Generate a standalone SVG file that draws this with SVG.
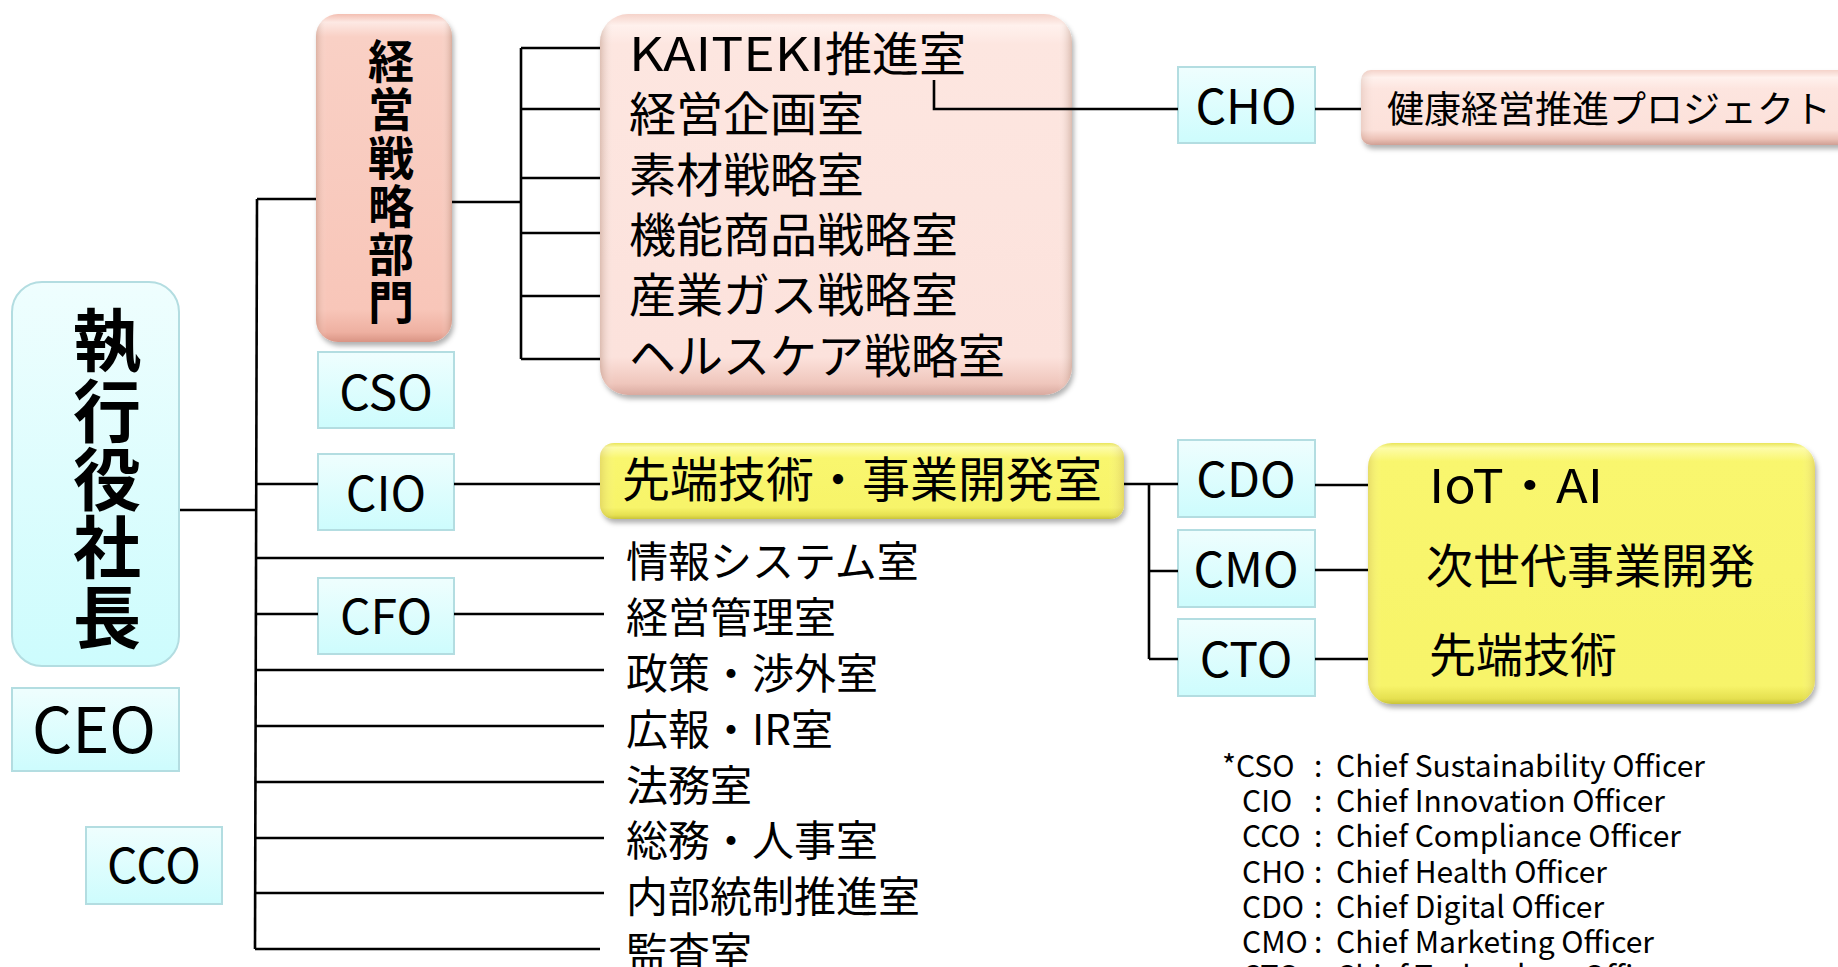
<svg xmlns="http://www.w3.org/2000/svg" width="1838" height="967" viewBox="0 0 1838 967">
<defs>
<linearGradient id="cyanG" x1="0" y1="0" x2="0" y2="1"><stop offset="0" stop-color="#effefe"/><stop offset="1" stop-color="#cdfcfd"/></linearGradient>
<linearGradient id="pinkStrongV" x1="0" y1="0" x2="0" y2="1"><stop offset="0" stop-color="#f3bfb2"/><stop offset="0.025" stop-color="#fde9e4"/><stop offset="0.07" stop-color="#f9d0c5"/><stop offset="0.9" stop-color="#f8c6b9"/><stop offset="0.97" stop-color="#eeb0a1"/><stop offset="1" stop-color="#d99484"/></linearGradient>
<linearGradient id="pinkLightV" x1="0" y1="0" x2="0" y2="1"><stop offset="0" stop-color="#f5d3ca"/><stop offset="0.03" stop-color="#fff1ed"/><stop offset="0.08" stop-color="#fde6e0"/><stop offset="0.9" stop-color="#fce2dc"/><stop offset="0.97" stop-color="#efc6bc"/><stop offset="1" stop-color="#d9aaa0"/></linearGradient>
<linearGradient id="pinkBarV" x1="0" y1="0" x2="0" y2="1"><stop offset="0" stop-color="#f5d3ca"/><stop offset="0.1" stop-color="#fff1ed"/><stop offset="0.25" stop-color="#fde5df"/><stop offset="0.8" stop-color="#fce1da"/><stop offset="0.92" stop-color="#ecc1b6"/><stop offset="1" stop-color="#cf9f94"/></linearGradient>
<linearGradient id="yellowV" x1="0" y1="0" x2="0" y2="1"><stop offset="0" stop-color="#e9e55a"/><stop offset="0.06" stop-color="#fdfca8"/><stop offset="0.2" stop-color="#f9f66e"/><stop offset="0.85" stop-color="#f7f46a"/><stop offset="0.95" stop-color="#e5e050"/><stop offset="1" stop-color="#c9c33a"/></linearGradient>
<linearGradient id="yellowBigV" x1="0" y1="0" x2="0" y2="1"><stop offset="0" stop-color="#e9e55a"/><stop offset="0.02" stop-color="#fdfca8"/><stop offset="0.07" stop-color="#f9f66e"/><stop offset="0.93" stop-color="#f7f46a"/><stop offset="0.98" stop-color="#e5e050"/><stop offset="1" stop-color="#c9c33a"/></linearGradient>
<linearGradient id="edgeH" x1="0" y1="0" x2="1" y2="0"><stop offset="0" stop-color="#8a5a40" stop-opacity="0.28"/><stop offset="0.03" stop-color="#ffffff" stop-opacity="0.0"/><stop offset="0.97" stop-color="#ffffff" stop-opacity="0"/><stop offset="1" stop-color="#8a5a40" stop-opacity="0.3"/></linearGradient>
<linearGradient id="edgeHNarrow" x1="0" y1="0" x2="1" y2="0"><stop offset="0" stop-color="#8a5a40" stop-opacity="0.25"/><stop offset="0.08" stop-color="#ffffff" stop-opacity="0.0"/><stop offset="0.92" stop-color="#ffffff" stop-opacity="0"/><stop offset="1" stop-color="#8a5a40" stop-opacity="0.3"/></linearGradient>
<filter id="shadow" x="-10%" y="-10%" width="125%" height="125%"><feDropShadow dx="2" dy="4" stdDeviation="2.5" flood-color="#000" flood-opacity="0.3"/></filter>
<style>
.cbox{fill:url(#cyanG);stroke:#b3dde1;stroke-width:2}
.lbl{font-family:"Noto Sans CJK JP","Noto Sans",sans-serif;font-size:48px;fill:#000;text-anchor:middle}
.big{font-size:63px}
.jp{font-family:"Noto Sans CJK JP",sans-serif;font-size:47px;fill:#000}
.jp48{font-size:48px}
.jp37{font-size:37px}
.jps{font-family:"Noto Sans CJK JP",sans-serif;font-size:42px;fill:#000}
.vb{font-family:"Noto Sans CJK JP",sans-serif;font-weight:700;fill:#000;text-anchor:middle}
.v68{font-size:68px}
.v46{font-size:46px}
.leg{font-family:"Noto Sans CJK JP","Noto Sans",sans-serif;font-size:30px;fill:#000}
.ln{fill:none;stroke:#000;stroke-width:2.6}
</style>
</defs>
<rect width="1838" height="967" fill="#fff"/>

<g id="exec">
<rect x="12" y="282" width="167" height="384" rx="30" class="cbox"/>
<text class="vb v68" x="107"><tspan x="107" y="366">執</tspan><tspan x="107" y="437">行</tspan><tspan x="107" y="505">役</tspan><tspan x="107" y="573">社</tspan><tspan x="107" y="643">長</tspan></text>
</g>
<g id="ceo"><rect x="12" y="688" width="167" height="83" class="cbox"/><text class="lbl big" x="94" y="753">CEO</text></g>
<g id="cco"><rect x="86" y="827" width="136" height="77" class="cbox"/><text class="lbl" x="154" y="883">CCO</text></g>

<g id="keiei">
<rect x="316" y="14" width="136" height="328" rx="22" fill="url(#pinkStrongV)" filter="url(#shadow)"/>
<rect x="316" y="14" width="136" height="328" rx="22" fill="url(#edgeHNarrow)"/>
<text class="vb v46" x="391"><tspan x="391" y="78">経</tspan><tspan x="391" y="126">営</tspan><tspan x="391" y="175">戦</tspan><tspan x="391" y="223">略</tspan><tspan x="391" y="271">部</tspan><tspan x="391" y="319">門</tspan></text>
</g>
<g id="cso"><rect x="318" y="352" width="136" height="76" class="cbox"/><text class="lbl" x="386" y="410">CSO</text></g>
<g id="cio"><rect x="318" y="454" width="136" height="76" class="cbox"/><text class="lbl" x="386" y="511">CIO</text></g>
<g id="cfo"><rect x="318" y="578" width="136" height="76" class="cbox"/><text class="lbl" x="386" y="634">CFO</text></g>

<g id="kaiteki">
<rect x="600" y="14" width="472" height="381" rx="28" fill="url(#pinkLightV)" filter="url(#shadow)"/>
<rect x="600" y="14" width="472" height="381" rx="28" fill="url(#edgeH)"/>
<text class="jp" x="629" y="71"><tspan textLength="196" lengthAdjust="spacingAndGlyphs">KAITEKI</tspan>推進室</text>
<text class="jp" x="629" y="131">経営企画室</text>
<text class="jp" x="629" y="192">素材戦略室</text>
<text class="jp" x="629" y="252">機能商品戦略室</text>
<text class="jp" x="629" y="312">産業ガス戦略室</text>
<text class="jp" x="629" y="373">ヘルスケア戦略室</text>
</g>

<g id="cho"><rect x="1178" y="67" width="137" height="76" class="cbox"/><text class="lbl" x="1246" y="124">CHO</text></g>
<g id="kenko">
<rect x="1361" y="70" width="500" height="75" rx="10" fill="url(#pinkBarV)" filter="url(#shadow)"/>
<rect x="1361" y="70" width="500" height="75" rx="10" fill="url(#edgeH)" opacity="0.5"/>
<text class="jp jp37" x="1387" y="123">健康経営推進プロジェクト</text>
</g>

<g id="sentan">
<rect x="600" y="443" width="524" height="76" rx="14" fill="url(#yellowV)" filter="url(#shadow)"/>
<rect x="600" y="443" width="524" height="76" rx="14" fill="url(#edgeH)" opacity="0.6"/>
<text class="jp jp48" x="622" y="497">先端技術・事業開発室</text>
</g>

<g id="depts">
<text class="jps" x="626" y="577">情報システム室</text>
<text class="jps" x="626" y="633">経営管理室</text>
<text class="jps" x="626" y="689">政策・渉外室</text>
<text class="jps" x="626" y="745">広報・IR室</text>
<text class="jps" x="626" y="801">法務室</text>
<text class="jps" x="626" y="856">総務・人事室</text>
<text class="jps" x="626" y="912">内部統制推進室</text>
<text class="jps" x="626" y="968">監査室</text>
</g>

<g id="cdo"><rect x="1178" y="440" width="137" height="77" class="cbox"/><text class="lbl" x="1246" y="497">CDO</text></g>
<g id="cmo"><rect x="1178" y="530" width="137" height="77" class="cbox"/><text class="lbl" x="1246" y="587">CMO</text></g>
<g id="cto"><rect x="1178" y="619" width="137" height="77" class="cbox"/><text class="lbl" x="1246" y="677">CTO</text></g>

<g id="iot">
<rect x="1368" y="443" width="447" height="261" rx="24" fill="url(#yellowBigV)" filter="url(#shadow)"/>
<rect x="1368" y="443" width="447" height="261" rx="24" fill="url(#edgeH)" opacity="0.6"/>
<text class="jp" x="1429" y="503" textLength="174" lengthAdjust="spacingAndGlyphs">IoT・AI</text>
<text class="jp" x="1426" y="583">次世代事業開発</text>
<text class="jp" x="1429" y="672">先端技術</text>
</g>

<g id="legend" class="leg">
<text y="777"><tspan x="1222">*CSO</tspan><tspan x="1314">:</tspan><tspan x="1336">Chief Sustainability Officer</tspan></text>
<text y="812"><tspan x="1242">CIO</tspan><tspan x="1314">:</tspan><tspan x="1336">Chief Innovation Officer</tspan></text>
<text y="847"><tspan x="1242">CCO</tspan><tspan x="1314">:</tspan><tspan x="1336">Chief Compliance Officer</tspan></text>
<text y="883"><tspan x="1242">CHO</tspan><tspan x="1314">:</tspan><tspan x="1336">Chief Health Officer</tspan></text>
<text y="918"><tspan x="1242">CDO</tspan><tspan x="1314">:</tspan><tspan x="1336">Chief Digital Officer</tspan></text>
<text y="953"><tspan x="1242">CMO</tspan><tspan x="1314">:</tspan><tspan x="1336">Chief Marketing Officer</tspan></text>
<text y="987"><tspan x="1242">CTO</tspan><tspan x="1314">:</tspan><tspan x="1336">Chief Technology Officer</tspan></text>
</g>

<g id="connectors" class="ln">
<path d="M180 510 H256"/>
<path d="M257 199 L255 949"/>
<path d="M257 199 H316"/>
<path d="M256 484 H318 M454 484 H600"/>
<path d="M256 558 H604"/>
<path d="M256 614 H318 M454 614 H604"/>
<path d="M256 670 H604 M256 726 H604 M256 782 H604 M256 838 H604 M256 893 H604 M255 949 H600"/>
<path d="M452 202 H521 M521 48 V359 M521 48 H600 M521 109 H600 M521 178 H600 M521 233 H600 M521 296 H600 M521 359 H600"/>
<path d="M934 80 V109 H1178"/>
<path d="M1315 109 H1361"/>
<path d="M1124 484 H1149 M1149 484 V659 M1149 484 H1178 M1149 571 H1178 M1149 659 H1178"/>
<path d="M1315 485 H1368 M1315 570 H1368 M1315 659 H1368"/>
</g>
</svg>
